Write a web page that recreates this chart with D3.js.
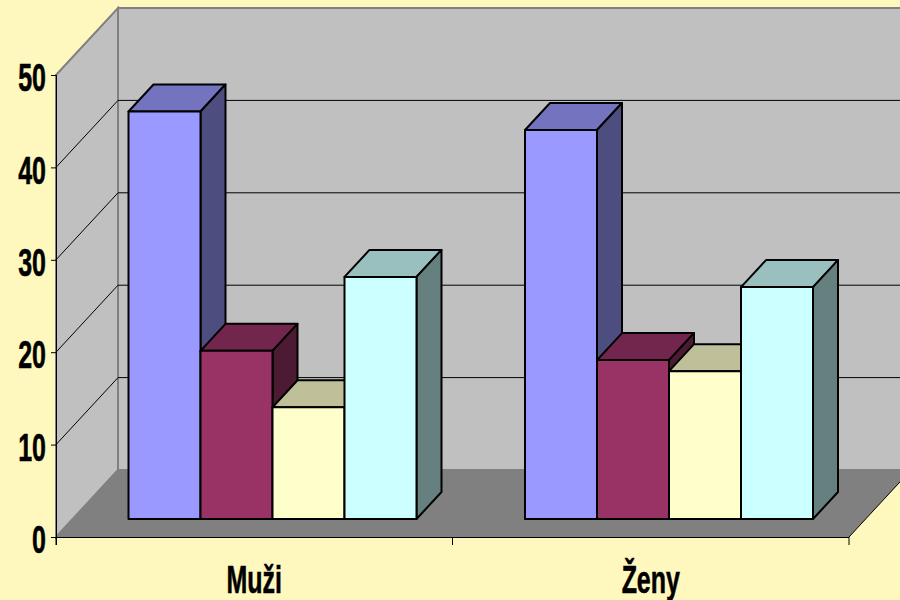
<!DOCTYPE html>
<html>
<head>
<meta charset="utf-8">
<script src="https://cdnjs.cloudflare.com/ajax/libs/d3/7.8.5/d3.min.js"></script>
<style>
    html, body { margin: 0; padding: 0; background: #FFF8BE; }
    svg { display: block; }
    .lbl { font-family: "Liberation Sans", sans-serif; font-weight: bold; fill: #000; stroke: #000; stroke-width: 0.6px; }
</style>
</head>
<body>
<svg width="900" height="600"></svg>
<script>
    // chart data
    var categories = ["Muži", "Ženy"];
    var seriesA = [44.1, 42.1];
    var seriesB = [18.2, 17.2];
    var seriesC = [12.1, 16];
    var seriesD = [26.2, 25.1];
    var allSeries = [seriesA, seriesB, seriesC, seriesD];
    var seriesColors = ["#9999FF", "#993366", "#FFFFCC", "#CCFFFF"];
    var yTicks = [0, 10, 20, 30, 40, 50];

    var svg = d3.select("svg");

    // plot box, the front plane of the 3d floor
    var plotL = 56, plotR = 849, plotB = 537, plotT = 75;
    var depthX = 62, depthY = 67;   // how far the back wall is pushed
    var gapX = 18.25, gapY = 18;    // floor in front of the bars
    var bx = 25, by = 27;           // bar depth
    var squeeze = 0.64;             // no narrow font here, so squash the labels

    var x = d3.scaleBand().domain(categories).range([plotL, plotR]);
    var y = d3.scaleLinear().domain([0, 50]).range([plotB, plotT]);
    var inner = d3.scaleBand().domain(d3.range(allSeries.length)).range([0, 288]);

    function pts(a) { return a.map(function(p) { return p.join(","); }).join(" "); }

    // walls and floor
    svg.append("polygon")
        .attr("points", pts([[plotL + depthX, plotT - depthY], [plotR + depthX, plotT - depthY], [plotR + depthX, plotB - depthY], [plotL + depthX, plotB - depthY]]))
        .attr("fill", "#C0C0C0").attr("stroke", "#808080").attr("stroke-width", 2);
    svg.append("polygon")
        .attr("points", pts([[plotL, plotT], [plotL + depthX, plotT - depthY], [plotL + depthX, plotB - depthY], [plotL, plotB]]))
        .attr("fill", "#C0C0C0").attr("stroke", "#808080").attr("stroke-width", 2);
    svg.append("polygon")
        .attr("points", pts([[plotL, plotB], [plotL + depthX, plotB - depthY], [plotR + depthX, plotB - depthY], [plotR, plotB]]))
        .attr("fill", "#808080");

    // gridlines on both walls
    var grid = svg.append("g").attr("stroke", "#000").attr("stroke-width", 1).attr("fill", "none");
    yTicks.slice(1, -1).forEach(function(t) {
        grid.append("polyline")
            .attr("points", pts([[plotL, y(t)], [plotL + depthX, y(t) - depthY], [plotR + depthX, y(t) - depthY]]));
    });

    // bars
    var barW = inner.bandwidth();

    function shade(c, k) {
        var r = d3.rgb(c);
        return d3.rgb(r.r * k, r.g * k, r.b * k).formatHex();
    }

    categories.forEach(function(cat, ci) {
        var x0 = x(cat) + x.bandwidth() / 2 - 144 + gapX;
        var g = svg.append("g").attr("stroke", "#000").attr("stroke-width", 2).attr("stroke-linejoin", "round");
        allSeries.forEach(function(vals, si) {
            var xl = x0 + inner(si), xr = xl + barW;
            var yt = y(vals[ci]) - gapY, yb = y(0) - gapY;
            g.append("polygon")
                .attr("points", pts([[xl, yt], [xl + bx, yt - by], [xr + bx, yt - by], [xr, yt]]))
                .attr("fill", shade(seriesColors[si], 0.75));
            g.append("polygon")
                .attr("points", pts([[xr, yt], [xr + bx, yt - by], [xr + bx, yb - by], [xr, yb]]))
                .attr("fill", shade(seriesColors[si], 0.5));
            g.append("rect")
                .attr("x", xl).attr("y", yt).attr("width", barW).attr("height", yb - yt)
                .attr("fill", seriesColors[si]);
        });
    });

    // floor edge on the right
    svg.append("line")
        .attr("x1", plotR).attr("y1", plotB).attr("x2", plotR + depthX).attr("y2", plotB - depthY)
        .attr("stroke", "#000");

    // axes
    var yAxis = svg.append("g").attr("transform", "translate(" + plotL + ",0)")
        .call(d3.axisLeft(y).tickValues(yTicks).tickSize(5).tickSizeOuter(0).tickFormat(d3.format("d")));
    yAxis.select(".domain").attr("d", "M0.5," + plotT + "V" + (plotB + 8));
    yAxis.selectAll("text")
        .attr("class", "lbl")
        .attr("x", 0)
        .attr("dy", "0.4em")
        .attr("transform", "translate(-10,0) scale(" + squeeze + ",1)")
        .style("font-size", "39px");

    var xAxis = svg.append("g").attr("transform", "translate(0," + plotB + ")")
        .call(d3.axisBottom(x).tickSize(0).tickSizeOuter(0).tickFormat(""));
    xAxis.selectAll(".tick").remove();
    xAxis.selectAll(".sep").data([plotL, (plotL + plotR) / 2, plotR]).enter().append("line")
        .attr("x1", function(d) { return d; }).attr("x2", function(d) { return d; })
        .attr("y1", 0).attr("y2", 8).attr("stroke", "#000");
    xAxis.select(".domain").attr("d", "M" + plotL + ",0.5H" + plotR);

    svg.selectAll(".cat").data(categories).enter().append("text")
        .attr("class", "lbl")
        .attr("transform", function(d) { return "translate(" + (x(d) + x.bandwidth() / 2) + ",593) scale(" + squeeze + ",1)"; })
        .attr("text-anchor", "middle")
        .style("font-size", "39px")
        .text(function(d) { return d; });
</script>
</body>
</html>
